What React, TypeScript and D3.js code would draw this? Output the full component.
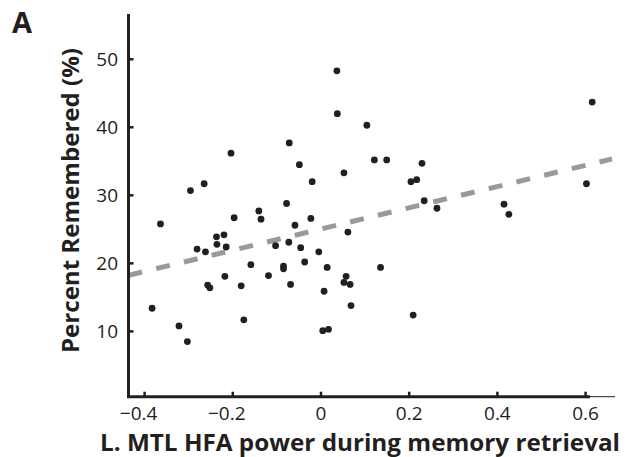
import * as d3 from 'd3';

// Scatter: x = L. MTL HFA power, y = percent remembered (one dot per subject)
const xVals = [
  -0.204, -0.049, -0.296, -0.265, -0.078, -0.364, -0.197, -0.141, -0.136, -0.059,
  -0.237, -0.22, -0.236, -0.215, -0.281, -0.262, -0.103, -0.073, -0.046, -0.159,
  -0.085, -0.085, -0.218, -0.119, -0.257, -0.252, -0.181, -0.069, -0.383, -0.175,
  -0.322, -0.303, 0.036, 0.037, 0.104, -0.072, 0.121, 0.149, 0.229, 0.052,
  -0.02, 0.204, 0.217, 0.234, 0.263, -0.023, 0.061, -0.005, -0.037, 0.014,
  0.057, 0.052, 0.066, 0.135, 0.007, 0.068, 0.209, 0.004, 0.017, 0.615,
  0.415, 0.426, 0.602,
];
const yVals = [
  36.2, 34.5, 30.7, 31.7, 28.8, 25.8, 26.7, 27.7, 26.5, 25.6,
  23.9, 24.2, 22.8, 22.4, 22.1, 21.7, 22.6, 23.1, 22.3, 19.8,
  19.6, 19.2, 18.1, 18.2, 16.8, 16.4, 16.7, 16.9, 13.4, 11.7,
  10.8, 8.5, 48.3, 42.0, 40.3, 37.7, 35.2, 35.2, 34.7, 33.3,
  32.0, 32.0, 32.3, 29.2, 28.1, 26.6, 24.6, 21.7, 20.2, 19.4,
  18.1, 17.2, 16.9, 19.4, 15.9, 13.8, 12.4, 10.1, 10.3, 43.7,
  28.7, 27.2, 31.7,
];

const xTicks = [-0.4, -0.2, 0, 0.2, 0.4, 0.6];
const yTicks = [10, 20, 30, 40, 50];

// least-squares fit drawn as the dashed line
const fitIntercept = 25.05;
const fitSlope = 15.6;
const fitRange = [-0.4365, 0.66];

const W = 634;
const H = 457;

const App = () => {
  const x = d3.scaleLinear().domain([-0.4365, 0.6667]).range([128.5, 615]);
  const y = d3.scaleLinear().domain([0.4, 56.65]).range([396.7, 14]);
  const font = "'Open Sans', 'Noto Sans', sans-serif";
  const ink = '#231f20';

  const fitLine = d3
    .line<number>()
    .x((v) => x(v))
    .y((v) => y(fitIntercept + fitSlope * v));

  const axisEnd = x(0.61);

  return (
    <svg
      width={W}
      height={H}
      style={{ position: 'absolute', left: 0, top: 0, background: '#fff' }}
      fontFamily={font}
    >
      {/* panel letter */}
      <text x={12} y={33} fontSize={29} fontWeight={700} fill={ink}>
        A
      </text>

      {/* regression line */}
      <path
        d={fitLine(fitRange) || ''}
        fill="none"
        stroke="#999999"
        strokeWidth={5}
        strokeDasharray="14 14.5"
      />

      {/* dots */}
      {xVals.map((v, i) => (
        <circle key={i} cx={x(v)} cy={y(yVals[i])} r={3.4} fill={ink} />
      ))}

      {/* y axis */}
      <line x1={x.range()[0]} x2={x.range()[0]} y1={14} y2={398} stroke={ink} strokeWidth={3} />
      {yTicks.map((t) => (
        <g key={t}>
          <line x1={x.range()[0]} x2={x.range()[0] + 5} y1={y(t)} y2={y(t)} stroke={ink} strokeWidth={2.5} />
          <text x={118} y={y(t)} dy="0.35em" textAnchor="end" fontSize={19} fill={ink}>
            {t}
          </text>
        </g>
      ))}

      {/* x axis */}
      <line x1={x.range()[0] - 1.5} x2={axisEnd} y1={y.range()[0]} y2={y.range()[0]} stroke={ink} strokeWidth={3} />
      <line x1={axisEnd} x2={x.range()[1]} y1={y.range()[0]} y2={y.range()[0]} stroke={ink} strokeWidth={1} />
      {xTicks.map((t) => (
        <g key={t}>
          <line x1={x(t)} x2={x(t)} y1={y.range()[0]} y2={y.range()[0] - 5} stroke={ink} strokeWidth={2.5} />
          <text
            x={x(t) + (t < 0 ? -6 : 0)}
            y={420}
            textAnchor="middle"
            fontSize={19}
            fill={ink}
          >
            {t < 0 ? '\u2212' + Math.abs(t) : String(t)}
          </text>
        </g>
      ))}

      {/* axis titles */}
      <text
        x={360}
        y={451}
        textAnchor="middle"
        fontSize={24}
        fontWeight={700}
        fill={ink}
        textLength={520}
        lengthAdjust="spacingAndGlyphs"
      >
        L. MTL HFA power during memory retrieval
      </text>
      <text
        transform={`translate(79, ${200.5}) rotate(-90)`}
        textAnchor="middle"
        fontSize={24}
        fontWeight={700}
        fill={ink}
        textLength={305}
        lengthAdjust="spacingAndGlyphs"
      >
        Percent Remembered (%)
      </text>
    </svg>
  );
};

export default App;
